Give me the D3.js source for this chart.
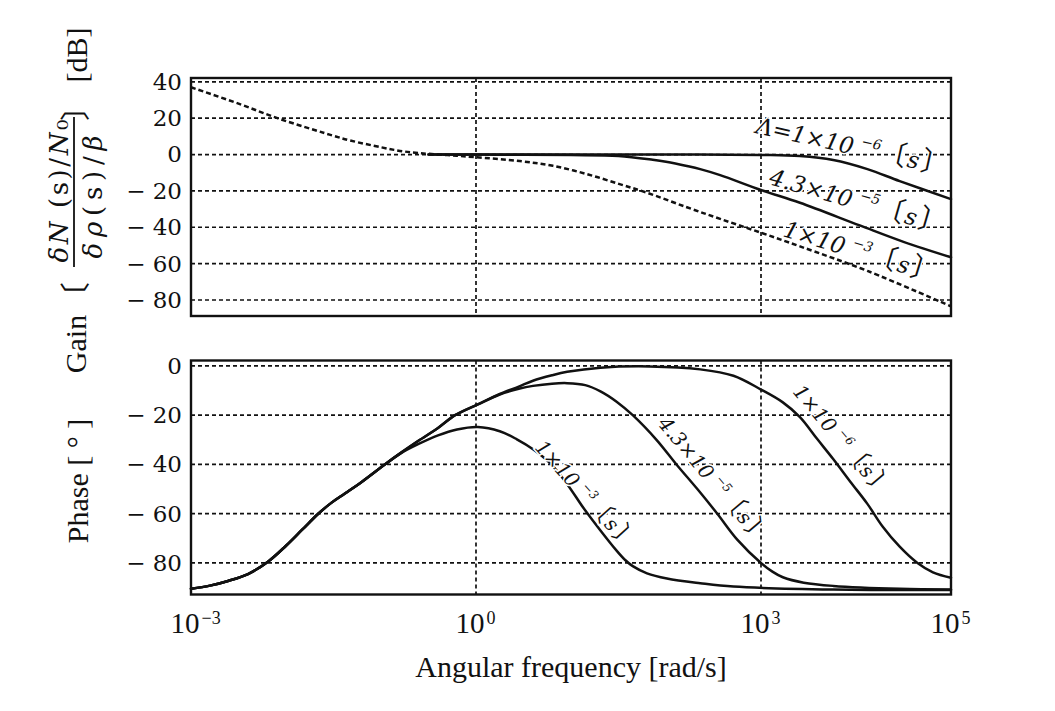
<!DOCTYPE html>
<html><head><meta charset="utf-8">
<script src="https://cdn.jsdelivr.net/npm/d3@7"></script>
<style>
body{margin:0;background:#fff;}
svg{display:block;background:#fff}
</style></head><body>
<svg id="c" width="1055" height="711"></svg>
<script>
// ---------- data (frequency given as log10 of rad/s) ----------
const xTickExps = [-3, 0, 3, 5];
const vGridExps = [0, 3];
const gainTicks = [40, 20, 0, -20, -40, -60, -80];
const phaseTicks = [0, -20, -40, -60, -80];

// Gain [dB]
const gainExp_L1e3 = [-3, -2.5, -2.09, -1.7, -1.5, -1.33, -1, -0.8, -0.6, -0.3, 0, 0.46, 0.81, 1.17, 1.52, 1.8, 2.22, 2.57, 3.0, 3.41, 4.12, 5];
const gainDb_L1e3  = [37, 28, 20, 13.5, 10.3, 7.8, 4, 2.0, 0.8, -0.3, -1.5, -3.6, -6.2, -10.8, -16.4, -21, -29, -35.4, -43, -50.5, -64, -83.5];
const gainExp_L43e5 = [-0.5, 0, 0.5, 1.0, 1.5, 1.86, 2.0, 2.22, 2.36, 2.57, 3.0, 3.41, 4.04, 4.5, 5];
const gainDb_L43e5  = [0, 0, -0.1, -0.3, -0.8, -2.9, -4, -6.3, -8, -11.3, -19.5, -26.5, -39, -48, -56.5];
const gainExp_L1e6 = [-0.5, 0, 1, 2, 3.0, 3.41, 3.76, 4.12, 4.46, 5];
const gainDb_L1e6  = [0, 0, 0, 0, -0.2, -0.8, -3, -8, -14.6, -24.5];

// Phase [deg]
const phaseExp_L1e3 = [-3, -2.8, -2.61, -2.4, -2.19, -2.0, -1.83, -1.66, -1.52, -1.38, -1.2, -0.96, -0.78, -0.61, -0.4, -0.2, 0.02, 0.25, 0.43, 0.6, 0.78, 0.96, 1.13, 1.31, 1.48, 1.57, 1.65, 1.8, 2.01, 2.36, 2.71, 3.76, 5];
const phaseDeg_L1e3 = [-90.5, -89.2, -87.3, -84.5, -79.5, -73, -66.5, -60, -55.5, -51.8, -47, -40, -35.2, -31.8, -28.2, -25.8, -24.8, -26.5, -29.8, -33.8, -39.5, -48, -57.6, -66.8, -75, -78.8, -81.3, -84.2, -86.3, -88.2, -89.6, -90.8, -91];
const phaseExp_L43e5 = [-3, -2.8, -2.61, -2.4, -2.19, -2.0, -1.83, -1.66, -1.52, -1.38, -1.2, -0.96, -0.78, -0.61, -0.4, -0.22, 0.02, 0.25, 0.45, 0.6, 0.8, 0.96, 1.15, 1.31, 1.48, 1.65, 1.9, 2.11, 2.33, 2.54, 2.75, 3.0, 3.12, 3.23, 3.45, 3.76, 4.46, 5];
const phaseDeg_L43e5 = [-90.5, -89.2, -87.3, -84.5, -79.5, -73, -66.5, -60, -55.5, -51.8, -47, -40, -35, -30.5, -25.2, -20, -15.6, -11.6, -9.3, -8.1, -7.2, -7.0, -7.8, -10.3, -14.5, -20, -30, -40, -50, -60, -70.5, -80, -83.5, -85.8, -88, -89.3, -90.5, -90.8];
const phaseExp_L1e6 = [-3, -2.8, -2.61, -2.4, -2.19, -2.0, -1.83, -1.66, -1.52, -1.38, -1.2, -0.96, -0.78, -0.61, -0.4, -0.22, 0.02, 0.25, 0.45, 0.6, 0.8, 0.96, 1.31, 1.83, 2.36, 2.71, 3.0, 3.23, 3.41, 3.59, 3.76, 3.94, 4.12, 4.28, 4.46, 4.64, 4.81, 5];
const phaseDeg_L1e6 = [-90.5, -89.2, -87.3, -84.5, -79.5, -73, -66.5, -60, -55.5, -51.8, -47, -40, -35, -30.5, -25.2, -20, -15.6, -11.4, -8.4, -6, -3.8, -2.4, -0.7, -0.2, -1.4, -4, -9.6, -14.8, -20.8, -29.6, -37.8, -47, -56, -65.2, -73.4, -79.8, -83.8, -86];

// Labels
const gainLabels = [
  {pre: "Λ=1×10", sup: "−6"},
  {pre: "4.3×10", sup: "−5"},
  {pre: "1×10",   sup: "−3"}
];
const phaseLabels = [
  {pre: "1×10",   sup: "−3"},
  {pre: "4.3×10", sup: "−5"},
  {pre: "1×10",   sup: "−6"}
];
const xTitle = "Angular frequency [rad/s]";
const phaseTitle = "Phase [ ° ]";

// ---------- layout ----------
const svg = d3.select("#c");
const X0 = 191, X1 = 951;
const x  = d3.scaleLog().domain([1e-3, 1e5]).range([X0, X1]);
const yG = d3.scaleLinear().domain([-88.8, 42.1]).range([316, 78]);
const yP = d3.scaleLinear().domain([-92.8, 2.2]).range([594.5, 360.5]);

const SERIF = "'Liberation Serif', 'Times New Roman', serif";
const WIDE = "'DejaVu Serif', serif";
const CJK = "'Noto Sans CJK JP', sans-serif";
const INK = "#111";

function grid(yScale, ticks) {
  const g = svg.append("g");
  const [yb, yt] = yScale.range();
  g.selectAll("line.h").data(ticks.filter(d => yScale(d) > yt + 2))
    .join("line").attr("x1", X0).attr("x2", X1)
    .attr("y1", d => yScale(d)).attr("y2", d => yScale(d))
    .attr("stroke", INK).attr("stroke-width", 1.7).attr("stroke-dasharray", "4,3");
  g.selectAll("line.v").data(vGridExps)
    .join("line").attr("y1", yt).attr("y2", yb)
    .attr("x1", d => x(10 ** d)).attr("x2", d => x(10 ** d))
    .attr("stroke", INK).attr("stroke-width", 1.7).attr("stroke-dasharray", "4,3");
}
grid(yG, gainTicks);
grid(yP, phaseTicks);

function yAxis(yScale, ticks) {
  const g = svg.append("g").attr("transform", `translate(${X0},0)`)
    .call(d3.axisLeft(yScale).tickValues(ticks).tickSize(0).tickPadding(9)
      .tickFormat(d => d < 0 ? "− " + (-d) : String(d)));
  g.select(".domain").remove();
  g.attr("font-family", WIDE).attr("font-size", 23);
  g.selectAll("text").attr("fill", INK);
}
yAxis(yG, gainTicks);
yAxis(yP, phaseTicks);

// x axis
const gx = svg.append("g").attr("transform", `translate(0,594.5)`)
  .call(d3.axisBottom(x).tickValues(xTickExps.map(e => 10 ** e)).tickSize(0).tickPadding(18).tickFormat(() => ""));
gx.select(".domain").remove();
gx.attr("font-family", SERIF).attr("font-size", 29);
gx.selectAll(".tick text").each(function(d) {
  const e = Math.round(Math.log10(d));
  const t = d3.select(this).attr("text-anchor", "start").attr("x", -21).attr("fill", INK);
  t.append("tspan").text("10");
  t.append("tspan").attr("dy", "-0.5em").attr("dx", 2).attr("font-size", 18)
    .text(e < 0 ? "−" + (-e) : String(e));
});

svg.append("text").attr("x", 571).attr("y", 677).attr("text-anchor", "middle")
  .attr("font-family", SERIF).attr("font-size", 30).attr("fill", INK).text(xTitle);

// curves
const smooth = d3.curveCatmullRom.alpha(0.5);
const lineG = d3.line().x(d => x(10 ** d[0])).y(d => yG(d[1])).curve(smooth);
const lineP = d3.line().x(d => x(10 ** d[0])).y(d => yP(d[1])).curve(smooth);

const curves = svg.append("g").attr("fill", "none").attr("stroke", INK).attr("stroke-linecap", "round");
curves.append("path").attr("d", lineG(d3.zip(gainExp_L1e6, gainDb_L1e6))).attr("stroke-width", 2.5);
curves.append("path").attr("d", lineG(d3.zip(gainExp_L43e5, gainDb_L43e5))).attr("stroke-width", 2.5);
curves.append("path").attr("d", lineG(d3.zip(gainExp_L1e3, gainDb_L1e3))).attr("stroke-width", 2.5)
  .attr("stroke-dasharray", "5,3").attr("stroke-linecap", "butt");
curves.append("path").attr("d", lineP(d3.zip(phaseExp_L1e3, phaseDeg_L1e3))).attr("stroke-width", 2.5);
curves.append("path").attr("d", lineP(d3.zip(phaseExp_L43e5, phaseDeg_L43e5))).attr("stroke-width", 2.5);
curves.append("path").attr("d", lineP(d3.zip(phaseExp_L1e6, phaseDeg_L1e6))).attr("stroke-width", 2.5);

// frames
svg.append("rect").attr("x", X0).attr("y", yG.range()[1]).attr("width", X1 - X0)
  .attr("height", yG.range()[0] - yG.range()[1]).attr("fill", "none").attr("stroke", INK).attr("stroke-width", 2.4);
svg.append("rect").attr("x", X0).attr("y", yP.range()[1]).attr("width", X1 - X0)
  .attr("height", yP.range()[0] - yP.range()[1]).attr("fill", "none").attr("stroke", INK).attr("stroke-width", 2.4);

// curve labels
function curveLabel(lbl, px, py, ang, fs) {
  const t = svg.append("text").attr("transform", `translate(${px},${py}) rotate(${ang})`)
    .attr("font-family", WIDE).attr("font-style", "italic").attr("font-size", fs).attr("fill", INK)
    .attr("stroke", "#fff").attr("stroke-width", 3).attr("paint-order", "stroke");
  t.append("tspan").text(lbl.pre);
  t.append("tspan").attr("dx", fs * 0.3).attr("dy", -fs * 0.45).attr("font-size", fs * 0.6).text(lbl.sup);
  t.append("tspan").attr("dy", fs * 0.45).attr("dx", -fs * 0.05).attr("font-family", CJK)
    .attr("font-style", "normal").attr("font-size", fs * 1.2).text("〔");
  t.append("tspan").attr("dx", 2).text("s");
  t.append("tspan").attr("dx", 2).attr("font-family", CJK).attr("font-style", "normal")
    .attr("font-size", fs * 1.2).text("〕");
}
curveLabel(gainLabels[0], 755, 133, 12.5, 23);
curveLabel(gainLabels[1], 768, 184, 16, 23);
curveLabel(gainLabels[2], 782, 236, 17, 23);
curveLabel(phaseLabels[0], 534, 448, 48, 20);
curveLabel(phaseLabels[1], 657, 424, 50, 20);
curveLabel(phaseLabels[2], 792, 392, 50, 20);

// y titles (rotated)
function vtext(px, py, fs, fam) {
  return svg.append("text").attr("transform", `translate(${px},${py}) rotate(-90)`)
    .attr("text-anchor", "middle").attr("font-family", fam).attr("font-size", fs).attr("fill", INK);
}
vtext(86, 344, 30, SERIF).text("Gain");
vtext(86, 297, 30, CJK).text("〔");
const num = vtext(68, 191, 26, WIDE).attr("textLength", 143).attr("lengthAdjust", "spacing");
num.append("tspan").attr("font-style", "italic").text("δN");
num.append("tspan").text(" (s)/");
num.append("tspan").attr("font-style", "italic").text("N");
num.append("tspan").text("₀");
svg.append("line").attr("x1", 74).attr("x2", 74).attr("y1", 117).attr("y2", 267)
  .attr("stroke", INK).attr("stroke-width", 1.8);
const den = vtext(102, 197, 26, WIDE).attr("textLength", 123).attr("lengthAdjust", "spacing");
den.append("tspan").attr("font-style", "italic").text("δρ");
den.append("tspan").text("(s)/");
den.append("tspan").attr("font-style", "italic").text("β");
vtext(86, 106, 30, CJK).text("〕");
vtext(87, 55, 30, SERIF).text("[dB]");
vtext(88, 481, 30, SERIF).text(phaseTitle);
</script>
</body></html>
